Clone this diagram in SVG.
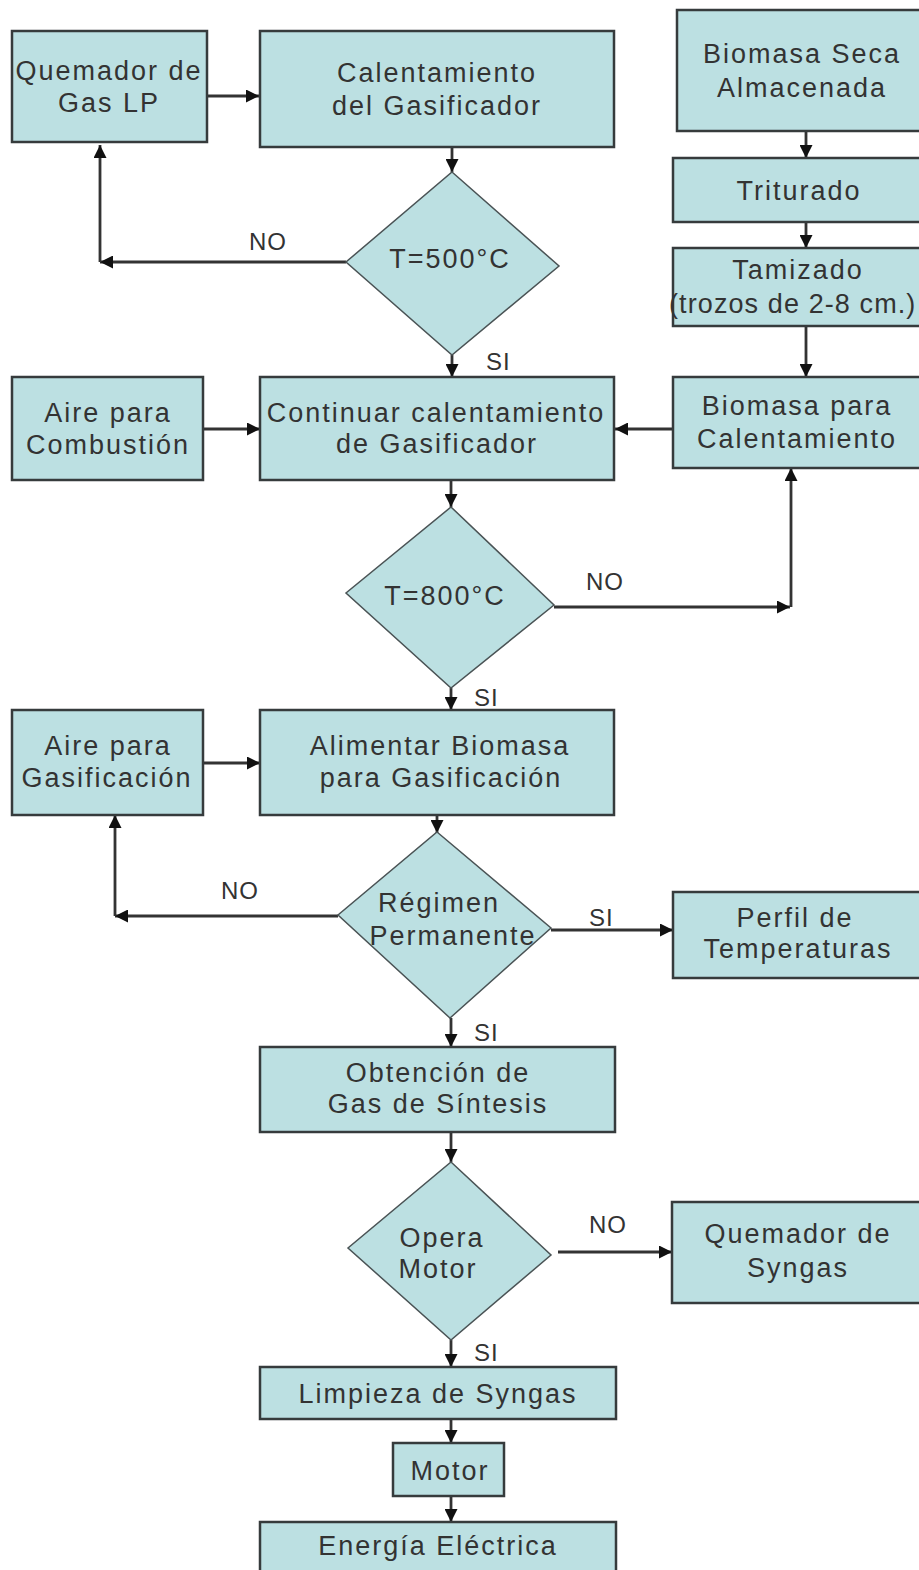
<svg xmlns="http://www.w3.org/2000/svg" width="919" height="1570" viewBox="0 0 919 1570">
  <style>
    .box { fill: #bce0e2; stroke: #363b3c; stroke-width: 2.5; }
    .dia { fill: #bce0e2; stroke: #4a5355; stroke-width: 1.5; }
    .t { font-family: "Liberation Sans", Arial, sans-serif; font-size: 27px; fill: #333333; text-anchor: middle; letter-spacing: 2px; }
    .lbl { font-family: "Liberation Sans", Arial, sans-serif; font-size: 24px; fill: #333333; letter-spacing: 1px; }
    .ln { fill: none; stroke: #333333; stroke-width: 2.8; marker-end: url(#arr); }
  </style>
  <defs>
    <marker id="arr" markerUnits="userSpaceOnUse" markerWidth="14" markerHeight="13" refX="13" refY="6.5" orient="auto">
      <path d="M0,0 L13,6.5 L0,13 z" fill="#111111"/>
    </marker>
  </defs>
  <rect width="919" height="1570" fill="#ffffff"/>

  <g id="connectors">
    <path class="ln" d="M201,96 H259"/>
    <path class="ln" d="M452,147 V172"/>
    <path class="ln" d="M346,262 H100"/>
    <path class="ln" d="M100,262 V145"/>
    <path class="ln" d="M452,355 V377"/>
    <path class="ln" d="M806,131 V158"/>
    <path class="ln" d="M806,222 V248"/>
    <path class="ln" d="M806,326 V377"/>
    <path class="ln" d="M203,429 H260"/>
    <path class="ln" d="M673,429 H615"/>
    <path class="ln" d="M451,480 V507"/>
    <path class="ln" d="M554,607 H790"/>
    <path class="ln" d="M791,607 V468"/>
    <path class="ln" d="M451,688 V710"/>
    <path class="ln" d="M203,763 H260"/>
    <path class="ln" d="M437,815 V833"/>
    <path class="ln" d="M338,916 H115"/>
    <path class="ln" d="M115,916 V815"/>
    <path class="ln" d="M551,930 H673"/>
    <path class="ln" d="M451,1018 V1047"/>
    <path class="ln" d="M451,1132 V1162"/>
    <path class="ln" d="M558,1252 H672"/>
    <path class="ln" d="M451,1340 V1367"/>
    <path class="ln" d="M451,1419 V1443"/>
    <path class="ln" d="M451,1496 V1522"/>
    <text class="lbl" x="249" y="250">NO</text>
    <text class="lbl" x="486" y="370">SI</text>
    <text class="lbl" x="586" y="590">NO</text>
    <text class="lbl" x="474" y="706">SI</text>
    <text class="lbl" x="221" y="899">NO</text>
    <text class="lbl" x="589" y="926">SI</text>
    <text class="lbl" x="474" y="1041">SI</text>
    <text class="lbl" x="589" y="1233">NO</text>
    <text class="lbl" x="474" y="1361">SI</text>
  </g>

  <g id="quemador-gas-lp">
    <rect class="box" x="12" y="31" width="195" height="111"/>
    <text class="t" x="109" y="80">Quemador de</text>
    <text class="t" x="109" y="112">Gas LP</text>
  </g>
  <g id="calentamiento">
    <rect class="box" x="260" y="31" width="354" height="116"/>
    <text class="t" x="437" y="82">Calentamiento</text>
    <text class="t" x="437" y="115">del Gasificador</text>
  </g>
  <g id="biomasa-seca">
    <rect class="box" x="677" y="10" width="250" height="121"/>
    <text class="t" x="802" y="63">Biomasa Seca</text>
    <text class="t" x="802" y="97">Almacenada</text>
  </g>
  <g id="triturado">
    <rect class="box" x="673" y="158" width="254" height="64"/>
    <text class="t" x="799" y="200">Triturado</text>
  </g>
  <g id="tamizado">
    <rect class="box" x="673" y="248" width="254" height="78"/>
    <text class="t" x="798" y="279">Tamizado</text>
    <text class="t" x="669" y="313" style="text-anchor:start; letter-spacing:1.1px">(trozos de 2-8 cm.)</text>
  </g>
  <g id="decision-500">
    <polygon class="dia" points="452,172 559,266 452,355 346,262"/>
    <text class="t" x="450" y="268">T=500°C</text>
  </g>
  <g id="aire-combustion">
    <rect class="box" x="12" y="377" width="191" height="103"/>
    <text class="t" x="108" y="422">Aire para</text>
    <text class="t" x="108" y="454">Combustión</text>
  </g>
  <g id="continuar-calentamiento">
    <rect class="box" x="260" y="377" width="354" height="103"/>
    <text class="t" x="436" y="422">Continuar calentamiento</text>
    <text class="t" x="437" y="453">de Gasificador</text>
  </g>
  <g id="biomasa-calentamiento">
    <rect class="box" x="673" y="377" width="254" height="91"/>
    <text class="t" x="797" y="415">Biomasa para</text>
    <text class="t" x="797" y="448">Calentamiento</text>
  </g>
  <g id="decision-800">
    <polygon class="dia" points="451,507 554,605 451,688 346,593"/>
    <text class="t" x="445" y="605">T=800°C</text>
  </g>
  <g id="aire-gasificacion">
    <rect class="box" x="12" y="710" width="191" height="105"/>
    <text class="t" x="108" y="755">Aire para</text>
    <text class="t" x="107" y="787">Gasificación</text>
  </g>
  <g id="alimentar-biomasa">
    <rect class="box" x="260" y="710" width="354" height="105"/>
    <text class="t" x="440" y="755">Alimentar Biomasa</text>
    <text class="t" x="441" y="787">para Gasificación</text>
  </g>
  <g id="decision-regimen">
    <polygon class="dia" points="437,832 551,928 450,1018 338,915"/>
    <text class="t" x="439" y="912">Régimen</text>
    <text class="t" x="453" y="945">Permanente</text>
  </g>
  <g id="perfil-temperaturas">
    <rect class="box" x="673" y="892" width="254" height="86"/>
    <text class="t" x="795" y="927">Perfil de</text>
    <text class="t" x="798" y="958">Temperaturas</text>
  </g>
  <g id="obtencion-gas">
    <rect class="box" x="260" y="1047" width="355" height="85"/>
    <text class="t" x="438" y="1082">Obtención de</text>
    <text class="t" x="438" y="1113">Gas de Síntesis</text>
  </g>
  <g id="decision-motor">
    <polygon class="dia" points="451,1162 551,1255 451,1340 348,1248"/>
    <text class="t" x="442" y="1247">Opera</text>
    <text class="t" x="438" y="1278">Motor</text>
  </g>
  <g id="quemador-syngas">
    <rect class="box" x="672" y="1202" width="255" height="101"/>
    <text class="t" x="798" y="1243">Quemador de</text>
    <text class="t" x="798" y="1277">Syngas</text>
  </g>
  <g id="limpieza-syngas">
    <rect class="box" x="260" y="1367" width="356" height="52"/>
    <text class="t" x="438" y="1403">Limpieza de Syngas</text>
  </g>
  <g id="motor">
    <rect class="box" x="393" y="1443" width="111" height="53"/>
    <text class="t" x="450" y="1480">Motor</text>
  </g>
  <g id="energia-electrica">
    <rect class="box" x="260" y="1522" width="356" height="60"/>
    <text class="t" x="438" y="1555">Energía Eléctrica</text>
  </g>
</svg>
